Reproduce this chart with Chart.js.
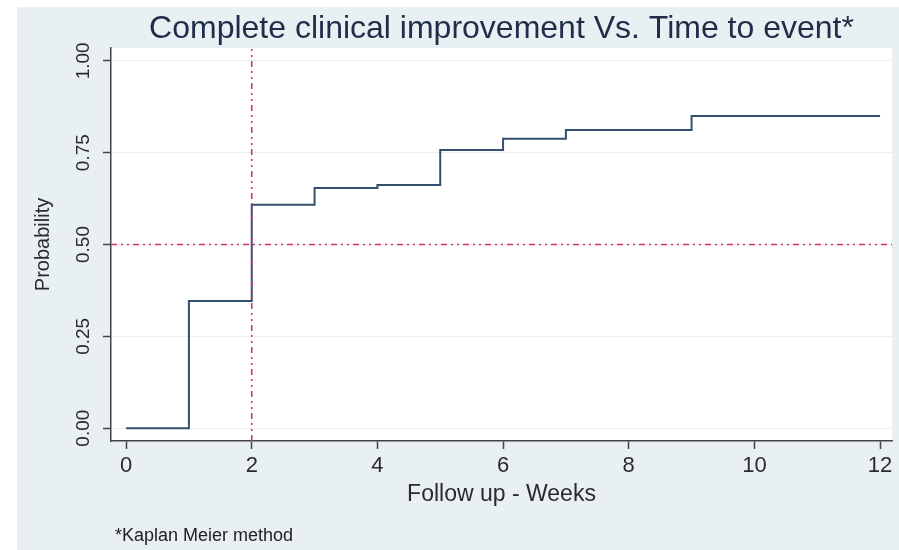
<!DOCTYPE html>
<html>
<head>
<meta charset="utf-8">
<script src="https://cdn.jsdelivr.net/npm/chart.js@4.4.1/dist/chart.umd.min.js"></script>
<style>
  html, body { margin: 0; padding: 0; background: #ffffff; }
  #wrap { width: 899px; height: 550px; }
</style>
</head>
<body>
<div id="wrap"><canvas id="kmChart" width="899" height="550"></canvas></div>
<script>
// Kaplan-Meier step data
var weeks = [0, 1, 2, 3, 4, 5, 6, 7, 9, 12];
var probability = [0, 0.346, 0.608, 0.654, 0.662, 0.757, 0.788, 0.812, 0.850, 0.850];
var xTicks = [0, 2, 4, 6, 8, 10, 12];
var yTicks = [0, 0.25, 0.5, 0.75, 1];
var yTickLabels = ["0.00", "0.25", "0.50", "0.75", "1.00"];
var medianLine = 0.5;
var medianWeek = 2;

var chartTitle = "Complete clinical improvement Vs. Time to event*";
var footNote = "*Kaplan Meier method";
var fontFamily = "'Liberation Sans', Arial, sans-serif";

var points = [];
for (var i = 0; i < weeks.length; i++) {
    points.push({x: weeks[i], y: probability[i]});
}

var stataPlugin = {
    id: 'stataLook',
    beforeDraw: function (chart) {
        var ctx = chart.ctx;
        var area = chart.chartArea;
        ctx.save();
        ctx.fillStyle = "#ffffff";
        ctx.fillRect(0, 0, chart.width, chart.height);
        ctx.fillStyle = "#e8f0f4";
        ctx.fillRect(17, 7, chart.width - 17, chart.height - 7);
        ctx.fillStyle = "#ffffff";
        ctx.fillRect(area.left, area.top, area.right - area.left, area.bottom - area.top);
        ctx.restore();
    },
    afterDraw: function (chart) {
        var ctx = chart.ctx;
        var area = chart.chartArea;
        var yScale = chart.scales.y;
        ctx.save();
        // title
        ctx.fillStyle = "#1f2d48";
        ctx.font = "32px " + fontFamily;
        ctx.textAlign = "center";
        ctx.textBaseline = "alphabetic";
        ctx.fillText(chartTitle, (area.left + area.right) / 2, 38);
        // rotated y tick labels
        ctx.fillStyle = "#2b2b2b";
        ctx.font = "19px " + fontFamily;
        ctx.textBaseline = "middle";
        for (var i = 0; i < yTicks.length; i++) {
            var py = yScale.getPixelForValue(yTicks[i]);
            ctx.save();
            ctx.translate(84, py);
            ctx.rotate(-Math.PI / 2);
            ctx.fillText(yTickLabels[i], 0, 0);
            ctx.restore();
        }
        // footnote
        ctx.font = "18px " + fontFamily;
        ctx.textAlign = "left";
        ctx.textBaseline = "alphabetic";
        ctx.fillStyle = "#222222";
        ctx.fillText(footNote, 115, 541);
        ctx.restore();
    }
};

var kmElem = document.getElementById("kmChart");
var kmChart = new Chart(kmElem, {
    type: 'line',
    data: {
        datasets: [
            {
                label: "Median line",
                data: [{x: -0.24, y: medianLine}, {x: 12.19, y: medianLine}],
                borderColor: "#cc3a62",
                borderWidth: 1.6,
                borderDash: [6, 4, 2, 4, 2, 4],
                pointRadius: 0,
                fill: false
            },
            {
                label: "Median week",
                data: [{x: medianWeek, y: -0.035}, {x: medianWeek, y: 1.035}],
                borderColor: "#cc3a62",
                borderWidth: 1.6,
                borderDash: [6, 4, 2, 4, 2, 4],
                pointRadius: 0,
                fill: false
            },
            {
                label: "Probability",
                data: points,
                stepped: 'before',
                borderColor: "#34506e",
                borderWidth: 2,
                pointRadius: 0,
                fill: false
            }
        ]
    },
    options: {
        responsive: false,
        animation: false,
        layout: {
            padding: {top: 48, right: 7, bottom: 40, left: 0}
        },
        plugins: {
            legend: {display: false},
            tooltip: {enabled: false}
        },
        scales: {
            x: {
                type: 'linear',
                min: -0.24,
                max: 12.19,
                afterBuildTicks: function (scale) {
                    scale.ticks = xTicks.map(function (v) { return {value: v}; });
                },
                afterFit: function (scale) {
                    scale.height = 69;
                },
                grid: {
                    drawOnChartArea: false,
                    tickLength: 8,
                    tickColor: "#444444",
                    tickWidth: 1.5
                },
                border: {color: "#444444", width: 1.5},
                ticks: {
                    color: "#2b2b2b",
                    padding: 4,
                    maxRotation: 0,
                    font: {family: fontFamily, size: 22}
                },
                title: {
                    display: true,
                    text: "Follow up - Weeks",
                    color: "#2b2b2b",
                    font: {family: fontFamily, size: 23},
                    padding: {top: 0, bottom: 2}
                }
            },
            y: {
                type: 'linear',
                min: -0.035,
                max: 1.035,
                afterBuildTicks: function (scale) {
                    scale.ticks = yTicks.map(function (v) { return {value: v}; });
                },
                afterFit: function (scale) {
                    scale.width = 111;
                },
                grid: {
                    color: "#ebeef0",
                    lineWidth: 1,
                    tickLength: 8,
                    tickColor: "#444444",
                    tickWidth: 1.5
                },
                border: {color: "#444444", width: 1.5},
                ticks: {display: false},
                title: {
                    display: true,
                    text: "Probability",
                    color: "#2b2b2b",
                    font: {family: fontFamily, size: 20},
                    padding: {top: 31, bottom: 0}
                }
            }
        }
    },
    plugins: [stataPlugin]
});
</script>
</body>
</html>
